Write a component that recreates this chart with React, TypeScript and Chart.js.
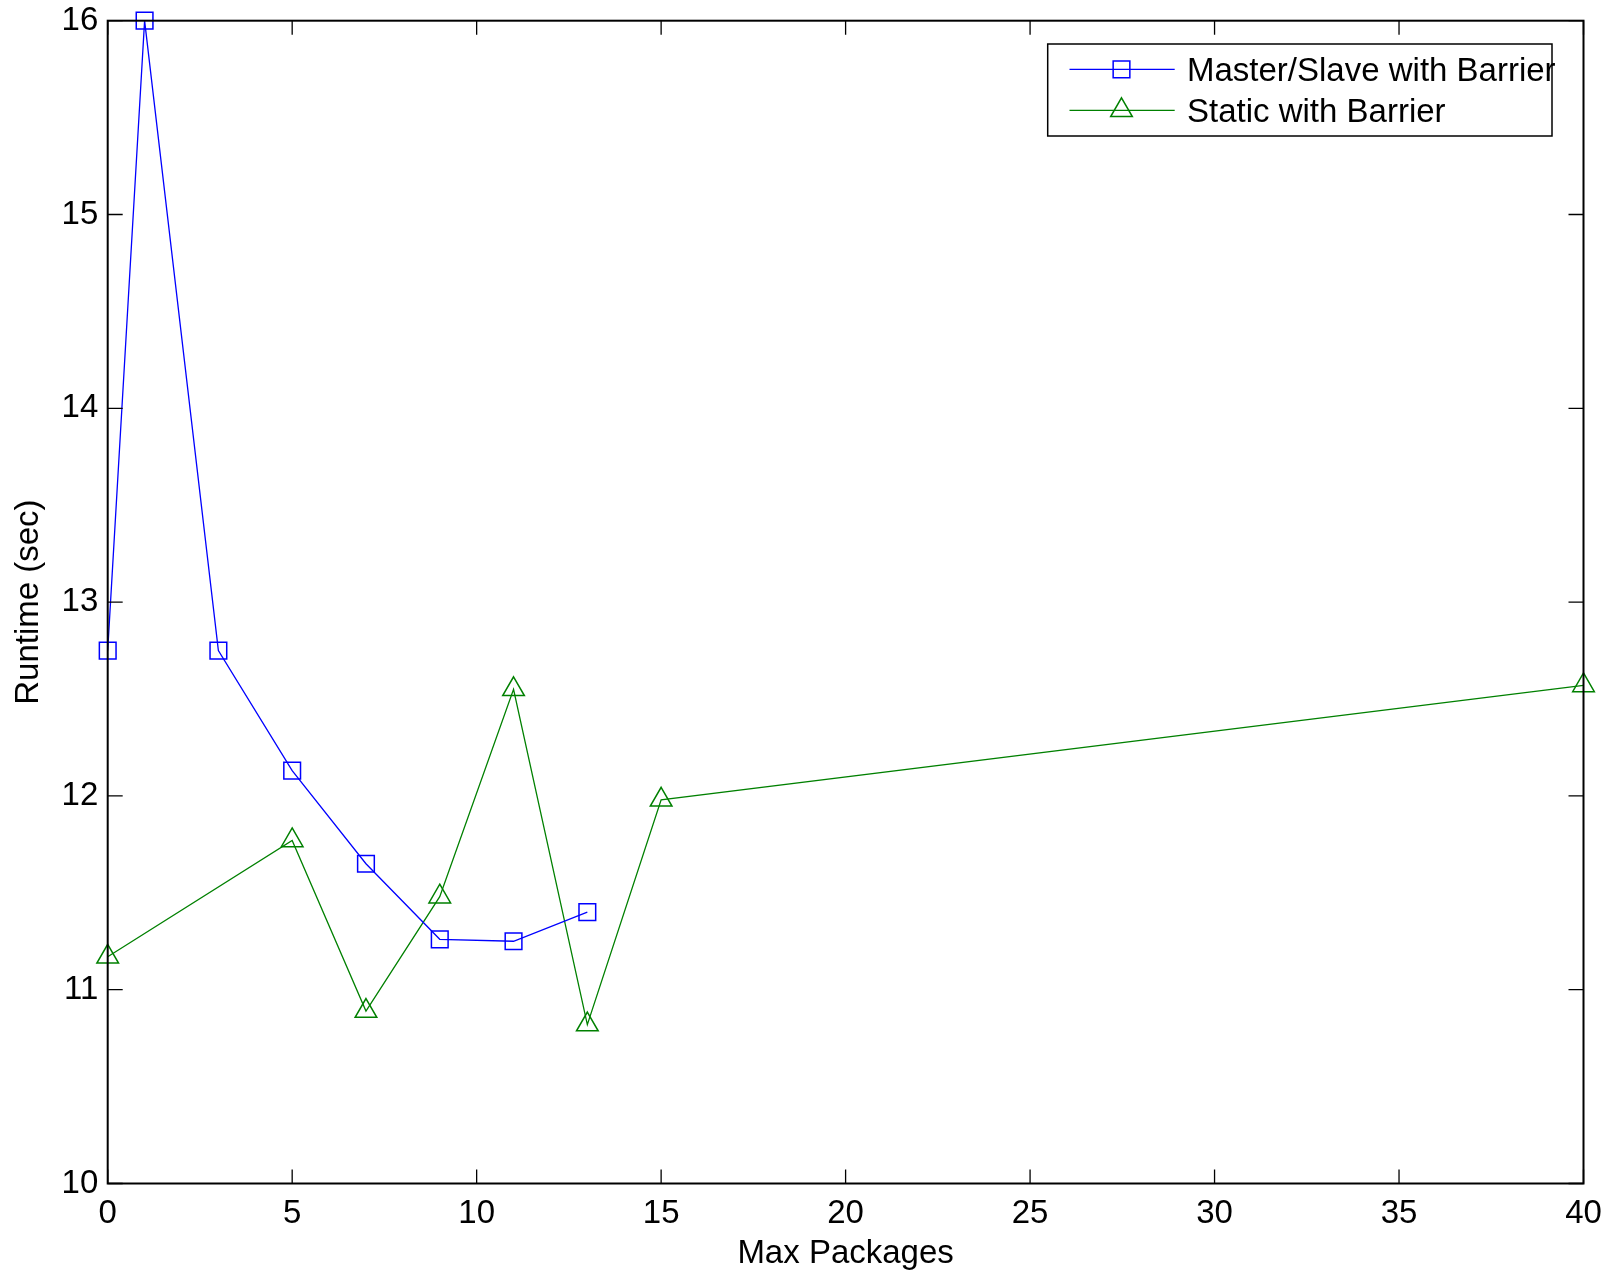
import React, { useEffect, useRef } from "react";
import { Chart, registerables } from "chart.js";

Chart.register(...registerables);

// ---- data ----
const maxPackagesMasterSlave = [0, 1, 3, 5, 7, 9, 11, 13];
const runtimeMasterSlave = [12.75, 16.0, 12.75, 12.13, 11.65, 11.26, 11.25, 11.4];

const maxPackagesStatic = [0, 5, 7, 9, 11, 13, 15, 40];
const runtimeStatic = [11.17, 11.77, 10.89, 11.48, 12.55, 10.82, 11.98, 12.57];

const seriesLabels = ["Master/Slave with Barrier", "Static with Barrier"];
const xTickValues = [0, 5, 10, 15, 20, 25, 30, 35, 40];
const yTickValues = [10, 11, 12, 13, 14, 15, 16];
const xTitle = "Max Packages";
const yTitle = "Runtime (sec)";

const FONT = "'Liberation Sans', Arial, Helvetica, sans-serif";
const FONT_SIZE = 33;
const BLUE = "#0000ff";
const GREEN = "#008000";

const W = 1609;
const H = 1271;
const AREA = { left: 107.7, right: 1583.5, top: 20.7, bottom: 1183.5 };

const drawMarker = (ctx: CanvasRenderingContext2D, style: string, x: number, y: number, r: number) => {
  ctx.beginPath();
  if (style === "rect") {
    const s = Math.SQRT1_2 * r;
    ctx.rect(x - s, y - s, 2 * s, 2 * s);
  } else {
    let rad = 0;
    ctx.moveTo(x + Math.sin(rad) * r, y - Math.cos(rad) * r);
    rad += (2 * Math.PI) / 3;
    ctx.lineTo(x + Math.sin(rad) * r, y - Math.cos(rad) * r);
    rad += (2 * Math.PI) / 3;
    ctx.lineTo(x + Math.sin(rad) * r, y - Math.cos(rad) * r);
    ctx.closePath();
  }
  ctx.stroke();
};

const axesBoxPlugin = {
  id: "axesBox",
  afterDatasetsDraw(chart: any) {
    const { ctx, chartArea, scales } = chart;
    const { left, right, top, bottom } = chartArea;
    ctx.save();
    ctx.strokeStyle = "#000";
    ctx.lineWidth = 1.3;
    const xs = scales.x;
    const ys = scales.y;
    ctx.beginPath();
    xTickValues.forEach((v) => {
      const px = xs.getPixelForValue(v);
      ctx.moveTo(px, bottom);
      ctx.lineTo(px, bottom - 14);
      ctx.moveTo(px, top);
      ctx.lineTo(px, top + 14);
    });
    yTickValues.forEach((v) => {
      const py = ys.getPixelForValue(v);
      ctx.moveTo(left, py);
      ctx.lineTo(left + 15, py);
      ctx.moveTo(right, py);
      ctx.lineTo(right - 15, py);
    });
    ctx.stroke();
    ctx.lineWidth = 2;
    ctx.strokeRect(left, top, right - left, bottom - top);
    ctx.restore();
  },
};

const legendPlugin = {
  id: "matlabLegend",
  afterDraw(chart: any) {
    const { ctx } = chart;
    const x1 = 1047.7;
    const y1 = 44;
    const x2 = 1552;
    const y2 = 136;
    const rows = [69.3, 110.3];
    ctx.save();
    ctx.fillStyle = "#fff";
    ctx.fillRect(x1, y1, x2 - x1, y2 - y1);
    chart.data.datasets.forEach((ds: any, i: number) => {
      const y = rows[i];
      ctx.strokeStyle = ds.borderColor;
      ctx.lineWidth = 1.3;
      ctx.beginPath();
      ctx.moveTo(1069.5, y);
      ctx.lineTo(1174.7, y);
      ctx.stroke();
      ctx.lineWidth = 1.5;
      drawMarker(ctx, ds.pointStyle, 1121.5, y, ds.pointRadius);
      ctx.fillStyle = "#000";
      ctx.font = `${FONT_SIZE}px ${FONT}`;
      ctx.textAlign = "left";
      ctx.textBaseline = "middle";
      ctx.fillText(ds.label, 1187, y + 3);
    });
    ctx.strokeStyle = "#000";
    ctx.lineWidth = 1.5;
    ctx.strokeRect(x1, y1, x2 - x1, y2 - y1);
    ctx.restore();
  },
};

export default function App() {
  const canvasRef = useRef<HTMLCanvasElement | null>(null);

  useEffect(() => {
    if (!canvasRef.current) return;
    const chart = new Chart(canvasRef.current, {
      type: "line",
      data: {
        datasets: [
          {
            label: seriesLabels[0],
            data: maxPackagesMasterSlave.map((x, i) => ({ x, y: runtimeMasterSlave[i] })),
            borderColor: BLUE,
            backgroundColor: "rgba(0,0,0,0)",
            pointBackgroundColor: "rgba(0,0,0,0)",
            pointBorderColor: BLUE,
            pointStyle: "rect",
            pointRadius: 11.8,
            pointBorderWidth: 1.5,
            borderWidth: 1.3,
            tension: 0,
            clip: false as any,
          },
          {
            label: seriesLabels[1],
            data: maxPackagesStatic.map((x, i) => ({ x, y: runtimeStatic[i] })),
            borderColor: GREEN,
            backgroundColor: "rgba(0,0,0,0)",
            pointBackgroundColor: "rgba(0,0,0,0)",
            pointBorderColor: GREEN,
            pointStyle: "triangle",
            pointRadius: 12.5,
            pointBorderWidth: 1.5,
            borderWidth: 1.3,
            tension: 0,
            clip: false as any,
          },
        ],
      },
      options: {
        responsive: false,
        maintainAspectRatio: false,
        animation: false,
        devicePixelRatio: 1,
        layout: {
          padding: { left: 0, top: AREA.top, right: W - AREA.right, bottom: 0 },
        },
        plugins: {
          legend: { display: false },
          tooltip: { enabled: false },
          title: { display: false },
        },
        scales: {
          x: {
            type: "linear",
            min: 0,
            max: 40,
            grid: { display: false, drawTicks: false },
            border: { display: false },
            afterBuildTicks: (scale: any) => {
              scale.ticks = xTickValues.map((v) => ({ value: v }));
            },
            ticks: {
              color: "#000",
              font: { family: FONT, size: FONT_SIZE },
              padding: 10.4,
              maxRotation: 0,
              autoSkip: false,
            },
            title: {
              display: true,
              text: xTitle,
              color: "#000",
              font: { family: FONT, size: FONT_SIZE },
              padding: { top: 0, bottom: -2.6 },
            },
            afterFit: (scale: any) => {
              scale.height = H - AREA.bottom;
              scale.paddingLeft = 0;
              scale.paddingRight = 0;
            },
          },
          y: {
            type: "linear",
            min: 10,
            max: 16,
            grid: { display: false, drawTicks: false },
            border: { display: false },
            afterBuildTicks: (scale: any) => {
              scale.ticks = yTickValues.map((v) => ({ value: v }));
            },
            ticks: {
              color: "#000",
              font: { family: FONT, size: FONT_SIZE },
              padding: 9.4,
              autoSkip: false,
            },
            title: {
              display: true,
              text: yTitle,
              color: "#000",
              font: { family: FONT, size: FONT_SIZE },
              padding: { top: 8.7, bottom: 0 },
            },
            afterFit: (scale: any) => {
              scale.width = AREA.left;
              scale.paddingTop = 0;
              scale.paddingBottom = 0;
            },
          },
        },
      } as any,
      plugins: [axesBoxPlugin, legendPlugin],
    });
    return () => chart.destroy();
  }, []);

  return (
    <div style={{ position: "fixed", left: 0, top: 0, width: W, height: H, background: "#fff" }}>
      <canvas ref={canvasRef} width={W} height={H} style={{ display: "block", width: W, height: H }} />
    </div>
  );
}
